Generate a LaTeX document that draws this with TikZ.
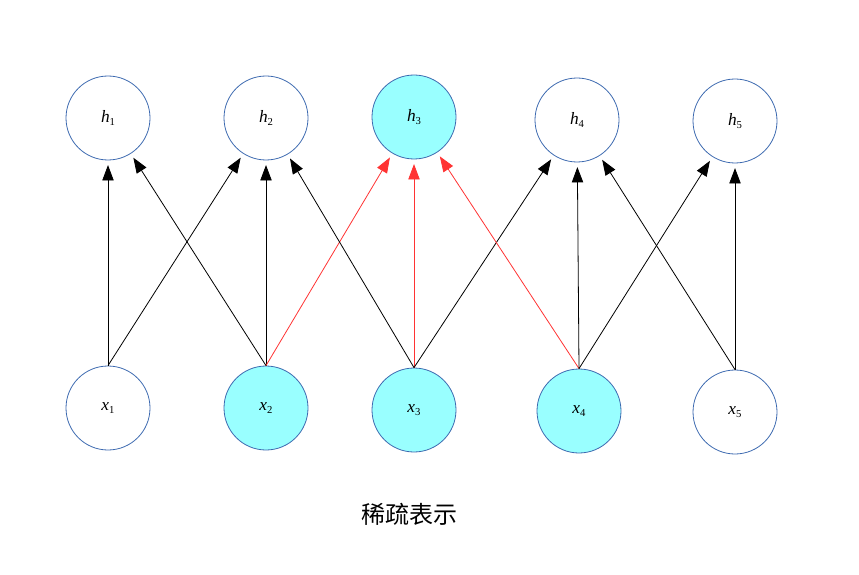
\documentclass[tikz,border=0pt]{standalone}
\usepackage{fontspec}
\setmainfont{Liberation Serif}
\newfontfamily\cjk{Noto Sans CJK SC}
\usetikzlibrary{arrows.meta}
\definecolor{nodeblue}{HTML}{3D6AB0}
\definecolor{nodecyan}{HTML}{99FFFF}
\definecolor{edgered}{HTML}{FF3333}
\newcommand{\lbl}[2]{{\fontsize{13pt}{15pt}\selectfont\itshape #1}\raisebox{-0.45ex}{\fontsize{8pt}{9pt}\selectfont #2}}
\begin{document}
\begin{tikzpicture}[x=0.75pt,y=-0.75pt,
  unit/.style={circle,draw=nodeblue,line width=0.6pt,minimum size=63pt,inner sep=0pt},
  active/.style={unit,fill=nodecyan},
  edge/.style={line width=0.6pt,-{Triangle[length=11.5pt,width=8.5pt]},shorten >=3.5pt},
  rededge/.style={edge,draw=edgered,-{Triangle[length=11.5pt,width=8.5pt,fill=edgered]}}]
\useasboundingbox (0,0) rectangle (859,574);
\node[unit]   (h1) at (108,118) {\lbl{h}{1}};
\node[unit]   (h2) at (266,118) {\lbl{h}{2}};
\node[active] (h3) at (414,117) {\lbl{h}{3}};
\node[unit]   (h4) at (577,120) {\lbl{h}{4}};
\node[unit]   (h5) at (735,121) {\lbl{h}{5}};
\node[unit]   (x1) at (108,408) {\lbl{x}{1}};
\node[active] (x2) at (266,408) {\lbl{x}{2}};
\node[active] (x3) at (414,410) {\lbl{x}{3}};
\node[active] (x4) at (579,411) {\lbl{x}{4}};
\node[unit]   (x5) at (735,412) {\lbl{x}{5}};
\draw[edge] (x1.north) -- (h1);
\draw[edge] (x1.north) -- (h2);
\draw[edge] (x2.north) -- (h1);
\draw[edge] (x2.north) -- (h2);
\draw[rededge] (x2.north) -- (h3);
\draw[edge] (x3.north) -- (h2);
\draw[rededge] (x3.north) -- (h3);
\draw[edge] (x3.north) -- (h4);
\draw[rededge] (x4.north) -- (h3);
\draw[edge] (x4.north) -- (h4);
\draw[edge] (x4.north) -- (h5);
\draw[edge] (x5.north) -- (h4);
\draw[edge] (x5.north) -- (h5);
\node[font=\cjk\fontsize{18pt}{21pt}\selectfont] (cap) at (409,514) {稀疏表示};
\end{tikzpicture}
\end{document}
